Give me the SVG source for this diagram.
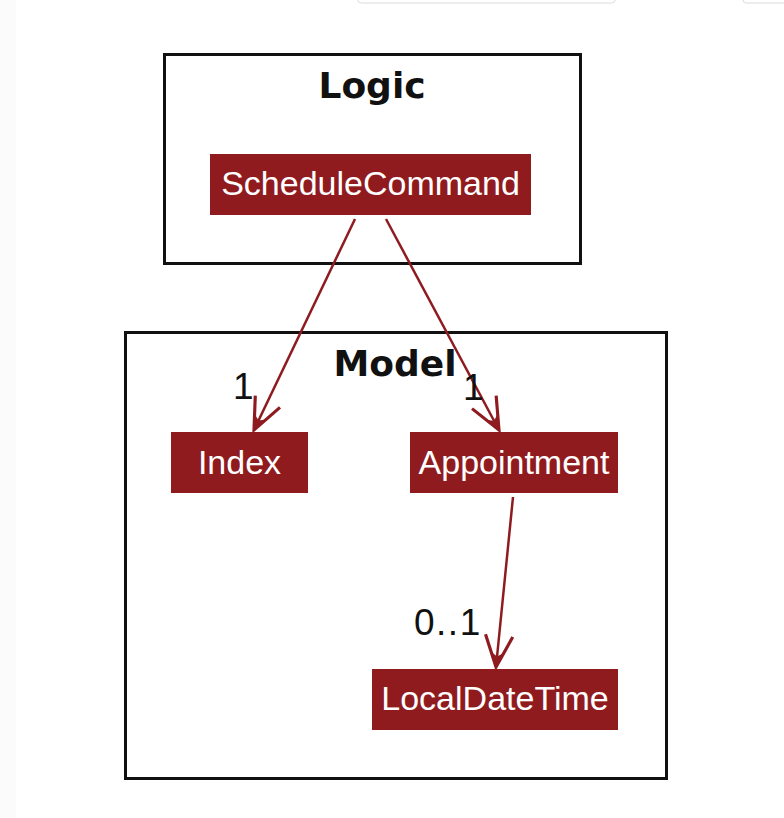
<svg xmlns="http://www.w3.org/2000/svg" width="784" height="818" viewBox="0 0 784 818">
  <style>
    .pkg { fill: #ffffff; stroke: #111111; stroke-width: 3; }
    .pkgtitle { font-family: "DejaVu Sans", sans-serif; font-weight: bold; font-size: 36px; fill: #111111; text-anchor: middle; }
    .cls { fill: #901b1e; }
    .clstext { font-family: "Liberation Sans", Arial, sans-serif; font-size: 34px; fill: #ffffff; text-anchor: middle; }
    .edge { stroke: #8e1b1f; stroke-width: 2.5; fill: none; }
    .mult { font-family: "Liberation Sans", Arial, sans-serif; font-size: 37px; fill: #111111; }
    .ui { fill: none; stroke: #dcdcdc; stroke-width: 1; }
  </style>
  <defs>
    <marker id="arrow" markerUnits="userSpaceOnUse" markerWidth="40" markerHeight="40" viewBox="-34 -18 38 36" refX="0" refY="0" orient="auto">
      <path d="M-30,-13 L0,0 L-30,13" fill="none" stroke="#8e1b1f" stroke-width="3"/>
      <path d="M0,0 L-14,-6 L-10,0 L-14,6 Z" fill="#8e1b1f"/>
    </marker>
  </defs>
  <rect x="0" y="0" width="784" height="818" fill="#ffffff"/>
  <rect x="0" y="0" width="16" height="818" fill="#fbfbfb"/>
  <rect class="ui" x="357.5" y="-10" width="258" height="13" rx="4"/>
  <rect class="ui" x="742.5" y="-10" width="60" height="13" rx="4"/>

  <g id="Logic">
    <rect class="pkg" x="164.5" y="54.5" width="416" height="209"/>
    <text class="pkgtitle" x="372" y="98">Logic</text>
  </g>
  <g id="Model">
    <rect class="pkg" x="125.5" y="332.5" width="541" height="446"/>
    <text class="pkgtitle" x="395" y="376">Model</text>
  </g>

  <g id="ScheduleCommand">
    <rect class="cls" x="210" y="154" width="321" height="61"/>
    <text class="clstext" x="370.5" y="195">ScheduleCommand</text>
  </g>
  <g id="Index">
    <rect class="cls" x="171" y="432" width="137" height="61"/>
    <text class="clstext" x="239.5" y="474">Index</text>
  </g>
  <g id="Appointment">
    <rect class="cls" x="410" y="432" width="208" height="61"/>
    <text class="clstext" x="514" y="474">Appointment</text>
  </g>
  <g id="LocalDateTime">
    <rect class="cls" x="372" y="669" width="246" height="61"/>
    <text class="clstext" x="495" y="710">LocalDateTime</text>
  </g>

  <g id="connectors">
    <line class="edge" x1="355" y1="219" x2="254" y2="430" marker-end="url(#arrow)"/>
    <line class="edge" x1="386" y1="219" x2="499" y2="430" marker-end="url(#arrow)"/>
    <line class="edge" x1="513" y1="497" x2="496" y2="667" marker-end="url(#arrow)"/>
    <text class="mult" x="233" y="399">1</text>
    <text class="mult" x="463" y="400">1</text>
    <text class="mult" x="414" y="635" letter-spacing="1.5">0..1</text>
  </g>
</svg>
